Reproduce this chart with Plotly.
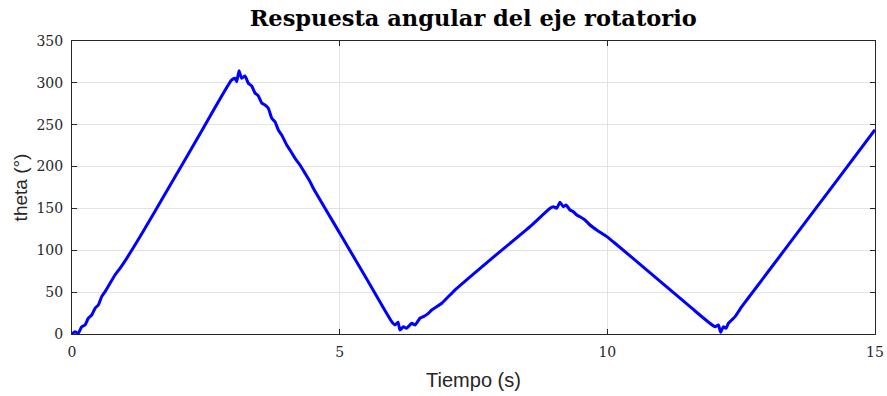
import plotly.graph_objects as go

# Time (s) and angle (deg)
tiempo = [0.00, 0.013, 0.056, 0.118, 0.181, 0.243, 0.304, 0.368, 0.43, 0.491, 0.555, 0.616,
          0.71, 0.803, 0.897, 1.022, 1.27, 1.8, 2.4, 2.983, 3.045, 3.077, 3.12, 3.17, 3.232,
          3.294, 3.357, 3.419, 3.48, 3.544, 3.605, 3.667, 3.731, 3.792, 3.854, 3.917, 4.011,
          4.072, 4.166, 4.259, 4.353, 4.446, 4.508, 5.0, 5.5, 5.972, 6.034, 6.09, 6.127,
          6.19, 6.25, 6.346, 6.408, 6.50, 6.563, 6.656, 6.72, 6.813, 6.907, 7.0, 7.093,
          7.155, 7.8, 8.556, 8.93, 8.99, 9.055, 9.116, 9.178, 9.229, 9.303, 9.365, 9.428,
          9.49, 9.583, 9.677, 9.80, 9.99, 10.144, 10.8, 11.545, 12.012, 12.074, 12.118,
          12.167, 12.217, 12.26, 12.324, 12.386, 12.448, 12.51, 12.604, 13.5, 14.3, 15.0]
theta = [0.0, 0.8, 2.7, 0.8, 8.7, 10.8, 18.8, 22.7, 30.7, 34.6, 44.6, 50.5,
         60.6, 70.5, 78.5, 90.4, 116.2, 174.0, 240.0, 303.5, 305.5, 301.4, 314.6, 305.5, 308.2,
         299.5, 296.3, 287.9, 284.4, 276.0, 273.6, 269.7, 257.7, 253.6, 243.7, 237.7, 225.8,
         219.8, 209.9, 201.9, 192.0, 182.0, 174.1, 120.6, 66.2, 14.7, 10.8, 14.0, 4.8,
         8.7, 6.8, 12.8, 10.8, 18.8, 20.7, 24.7, 28.7, 32.6, 36.7, 42.7, 48.6,
         52.6, 88.0, 128.2, 150.2, 152.1, 150.2, 157.3, 152.1, 154.1, 148.1, 146.1, 142.2,
         140.1, 136.2, 130.2, 124.3, 116.3, 108.4, 73.0, 32.6, 8.7, 10.8, 2.0,
         8.7, 6.8, 12.8, 16.7, 20.7, 26.6, 32.6, 40.6, 116.5, 184.5, 244.0]

x_ticks = [0, 5, 10, 15]
y_ticks = [0, 50, 100, 150, 200, 250, 300, 350]

fig = go.Figure()
fig.add_trace(go.Scatter(x=tiempo, y=theta, mode="lines",
                         line=dict(color="#0000ff", width=3, shape="spline", smoothing=0.5),
                         showlegend=False))

axis_common = dict(
    showline=True, linecolor="#262626", linewidth=1, mirror="allticks",
    ticks="inside", ticklen=5, tickcolor="#262626",
    showgrid=True, gridcolor="#e3e3e3", gridwidth=1, zeroline=False,
    automargin=False, ticklabelstandoff=5,
    tickfont=dict(family="DejaVu Serif", size=14, color="#262626"),
)

fig.update_xaxes(range=[0, 15], tickvals=x_ticks, ticktext=[str(v) for v in x_ticks],
                 title=dict(text="Tiempo (s)", font=dict(family="Liberation Sans", size=20, color="#262626"),
                            standoff=14),
                 **axis_common)
fig.update_yaxes(range=[0, 350], tickvals=y_ticks, ticktext=[str(v) for v in y_ticks],
                 title=dict(text="theta (°)", font=dict(family="Liberation Sans", size=19, color="#262626"),
                            standoff=3),
                 **axis_common)

fig.update_layout(
    width=887, height=396,
    margin=dict(l=72, r=12, t=41, b=62),
    paper_bgcolor="white", plot_bgcolor="white",
    title=dict(text="<b>Respuesta angular del eje rotatorio</b>", x=0.5335, xanchor="center",
               y=0.953, yanchor="middle",
               font=dict(family="DejaVu Serif", size=22.5, color="black")),
)

fig.write_html("out.html")
